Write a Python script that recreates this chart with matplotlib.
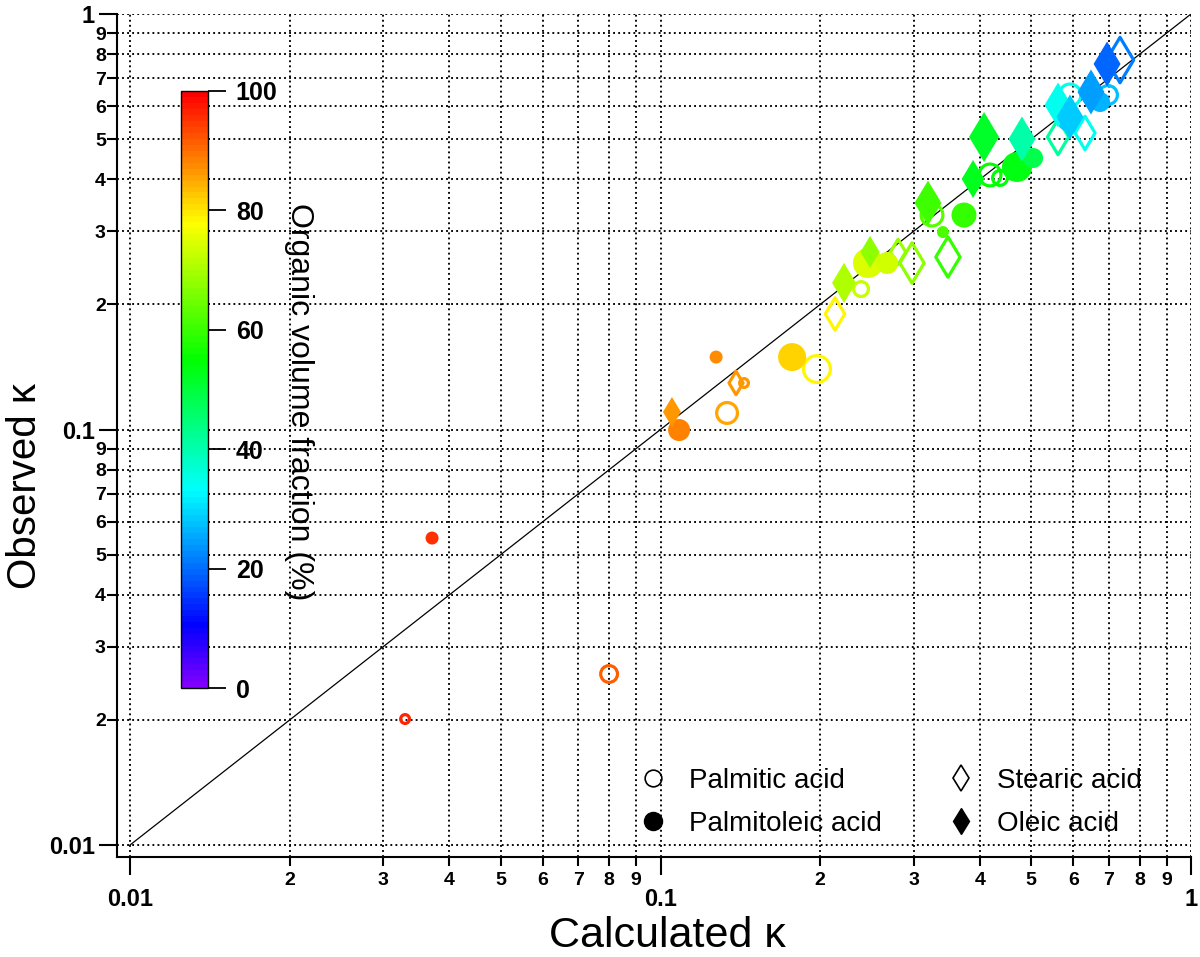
import matplotlib
matplotlib.use('Agg')
import matplotlib.pyplot as plt
from matplotlib.colors import LinearSegmentedColormap, Normalize
from matplotlib.cm import ScalarMappable
from matplotlib.lines import Line2D
from matplotlib.transforms import offset_copy

plt.rcParams['font.family'] = ['Liberation Sans', 'DejaVu Sans']
plt.rcParams.update({
    'xtick.major.size': 13, 'xtick.major.width': 1.5, 'xtick.major.pad': 9,
    'xtick.minor.size': 6.5, 'xtick.minor.width': 1.5, 'xtick.minor.pad': 4,
    'ytick.major.size': 13, 'ytick.major.width': 1.5, 'ytick.major.pad': 3,
    'ytick.minor.size': 7, 'ytick.minor.width': 1.5, 'ytick.minor.pad': 1,
})

# palmitic acid (open circles)
palmitic_calc = [0.0330, 0.0800, 0.1335, 0.1437, 0.1972, 0.2388, 0.3249, 0.4180, 0.4365, 0.5913, 0.6975]
palmitic_obs = [0.0201, 0.0258, 0.1096, 0.1294, 0.1398, 0.2178, 0.3282, 0.4098, 0.4031, 0.6384, 0.6384]
palmitic_org = [96, 91, 85, 86, 78, 72, 62, 55, 54, 34, 27]
palmitic_size = [12, 20, 24, 12, 30, 18, 25, 25, 18, 25, 22]

# palmitoleic acid (filled circles)
palmitoleic_calc = [0.0371, 0.1084, 0.1273, 0.1770, 0.2461, 0.2673, 0.3407, 0.3733, 0.4699, 0.5038, 0.5861, 0.6738]
palmitoleic_obs = [0.0548, 0.0997, 0.1494, 0.1494, 0.2516, 0.2516, 0.2987, 0.3282, 0.4284, 0.4502, 0.5557, 0.6141]
palmitoleic_org = [95, 88, 87, 81, 74, 73, 61, 59, 53, 48, 29, 26]
palmitoleic_size = [13, 22, 13, 28, 30, 22, 12, 25, 30, 20, 22, 20]

# stearic acid (open diamonds)
stearic_calc = [0.1388, 0.2133, 0.2804, 0.2979, 0.3482, 0.5615, 0.6313, 0.7348]
stearic_obs = [0.1294, 0.1897, 0.2675, 0.2516, 0.2601, 0.5058, 0.5171, 0.7748]
stearic_org = [86, 78, 68, 67, 59, 41, 34, 21]
stearic_size = [28, 37, 30, 45, 45, 40, 38, 50]

# oleic acid (filled diamonds)
oleic_calc = [0.1051, 0.2218, 0.2483, 0.3193, 0.3883, 0.4073, 0.4801, 0.5615, 0.5913, 0.6479, 0.6947]
oleic_obs = [0.1102, 0.2253, 0.2675, 0.3508, 0.4008, 0.5058, 0.5002, 0.6039, 0.5650, 0.6490, 0.7581]
oleic_org = [86, 70, 67, 60, 52, 51, 40, 34, 28, 24, 19]
oleic_size = [30, 40, 32, 45, 38, 50, 45, 45, 45, 45, 45]

one_to_one = [0.01, 1]
major_ticks = [0.01, 0.1, 1]
major_labels = ['0.01', '0.1', '1']
minor_ticks = [0.02, 0.03, 0.04, 0.05, 0.06, 0.07, 0.08, 0.09,
               0.2, 0.3, 0.4, 0.5, 0.6, 0.7, 0.8, 0.9]
minor_labels = ['2', '3', '4', '5', '6', '7', '8', '9'] * 2
cbar_ticks = [0, 20, 40, 60, 80, 100]

cmap = LinearSegmentedColormap.from_list(
    'rainbow_igor',
    [(0.0, '#8000ff'), (0.10, '#0000ff'), (0.33, '#00ffff'),
     (0.55, '#00ff00'), (0.78, '#ffff00'), (1.0, '#ff0000')], N=100)
norm = Normalize(0, 100)

W, H = 1200, 957
fig = plt.figure(figsize=(W / 100, H / 100), dpi=100)
ax = fig.add_axes([117 / W, 100 / H, 1074 / W, 843 / H])
ax.set_xscale('log')
ax.set_yscale('log')
ax.set_xlim(0.009451, 1)
ax.set_ylim(0.009357, 1)

ax.set_axisbelow(True)
ax.grid(True, which='both', color='k', ls=(0, (1, 1.7)), lw=1.35)

ax.plot(one_to_one, one_to_one, color='k', lw=0.9, zorder=2)

px = 0.72  # pixel -> point at 100 dpi


def circ(sizes, lw=0):
    return [(d * px - lw) ** 2 for d in sizes]


def diam(sizes, lw=0):
    return [(h * px / 1.414 - lw) ** 2 for h in sizes]


open_lw = 2.3
ax.scatter(palmitic_calc, palmitic_obs, s=circ(palmitic_size, open_lw), marker='o',
           facecolors='none', edgecolors=cmap(norm(palmitic_org)), linewidths=open_lw, zorder=3)
ax.scatter(stearic_calc, stearic_obs, s=diam(stearic_size, open_lw), marker='d',
           facecolors='none', edgecolors=cmap(norm(stearic_org)), linewidths=open_lw, zorder=3)
ax.scatter(palmitoleic_calc, palmitoleic_obs, s=circ(palmitoleic_size), marker='o',
           c=palmitoleic_org, cmap=cmap, norm=norm, linewidths=0, zorder=4)
ax.scatter(oleic_calc, oleic_obs, s=diam(oleic_size), marker='d',
           c=oleic_org, cmap=cmap, norm=norm, linewidths=0, zorder=5)

for side in ['top', 'right']:
    ax.spines[side].set_visible(False)
for side in ['left', 'bottom']:
    ax.spines[side].set_linewidth(1.5)

ax.set_xticks(major_ticks, major_labels)
ax.set_xticks(minor_ticks, minor_labels, minor=True)
ax.set_yticks(major_ticks, major_labels)
ax.set_yticks(minor_ticks, minor_labels, minor=True)
ax.tick_params(which='major', labelsize=17)
ax.tick_params(which='minor', labelsize=14)
for lbl in ax.get_xticklabels(which='both') + ax.get_yticklabels(which='both'):
    lbl.set_fontweight('bold')

# major x labels sit lower than the minor ones; place them explicitly
ax.tick_params(axis='x', which='major', labelbottom=False)
major_trans = offset_copy(ax.get_xaxis_transform(), fig=fig, y=-22, units='points')
for val, txt in zip(major_ticks, major_labels):
    ax.text(val, 0, txt, transform=major_trans, ha='center', va='top',
            fontsize=17, fontweight='bold', clip_on=False)

ax.set_xlabel('Calculated κ', fontsize=31)
ax.set_ylabel('Observed κ', fontsize=29)
ax.xaxis.set_label_coords((667 - 117) / 1074, (857 - 916) / 843)
ax.yaxis.set_label_coords((44 - 117) / 1074, (857 - 486) / 843)

# colour bar inside the plot
cax = fig.add_axes([181 / W, (H - 688) / H, 27 / W, 597 / H])
cb = fig.colorbar(ScalarMappable(norm=norm, cmap=cmap), cax=cax, ticks=cbar_ticks)
cb.outline.set_linewidth(1.0)
cax.tick_params(which='major', length=13, width=1.3, labelsize=18, pad=7)
cax.minorticks_off()
for lbl in cax.get_yticklabels():
    lbl.set_fontweight('bold')
cb.set_label('Organic volume fraction (%)', rotation=270, va='bottom', fontsize=23, labelpad=5)
cax.yaxis.label.set_y(0.48)

# legend
handles = [
    Line2D([], [], ls='none', marker='o', ms=12, mfc='none', mec='k', mew=1.2),
    Line2D([], [], ls='none', marker='o', ms=13, mfc='k', mec='k'),
    Line2D([], [], ls='none', marker='d', ms=13, mfc='none', mec='k', mew=1.2),
    Line2D([], [], ls='none', marker='d', ms=13.5, mfc='k', mec='k'),
]
names = ['Palmitic acid', 'Palmitoleic acid', 'Stearic acid', 'Oleic acid']
ax.legend(handles, names, ncol=2, frameon=False, fontsize=20,
          loc='upper left', bbox_to_anchor=(639 / W, 1 - 768 / H),
          bbox_transform=fig.transFigure, borderpad=0, borderaxespad=0,
          handlelength=1.0, handletextpad=0.8, columnspacing=2.35, labelspacing=0.6)

fig.savefig('out.png', dpi=100)
